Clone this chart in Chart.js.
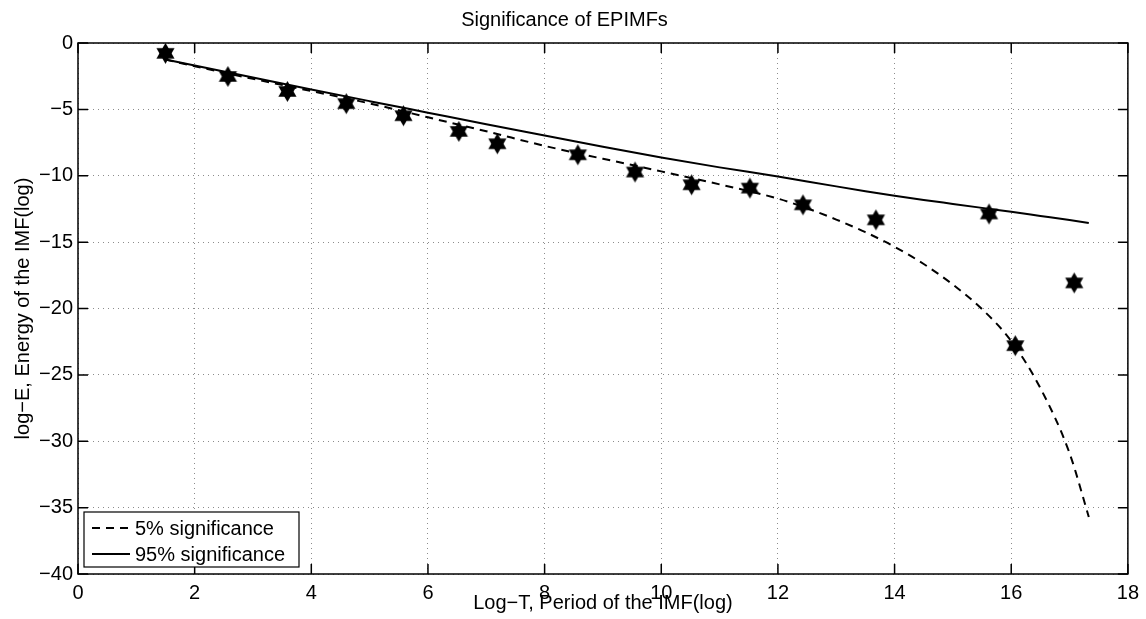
<!DOCTYPE html>
<html>
<head>
<meta charset="utf-8">
<script src="https://cdn.jsdelivr.net/npm/chart.js@4.4.1/dist/chart.umd.min.js"></script>
<style>
  html, body { margin: 0; padding: 0; background: #fff; }
  #wrap { width: 1146px; height: 619px; }
</style>
</head>
<body>
<div id="wrap"><canvas id="myChart"></canvas></div>
<script>
// data
const starX = [1.50, 2.57, 3.59, 4.60, 5.58, 6.53, 7.19, 8.57, 9.55, 10.52, 11.52, 12.43, 13.68, 15.62, 16.07, 17.08];
const starY = [-0.78, -2.52, -3.65, -4.57, -5.48, -6.66, -7.59, -8.42, -9.72, -10.68, -10.93, -12.19, -13.32, -12.88, -22.8, -18.07];

const curveX = [1.5, 2, 3, 4, 5, 6, 7, 8, 9, 10, 11, 12, 12.5, 13, 13.5, 14, 14.5, 15, 15.5, 16, 16.5, 17, 17.33];
const sig5 = [-1.25, -1.75, -2.7, -3.62, -4.55, -5.6, -6.65, -7.75, -8.72, -9.67, -10.65, -11.72, -12.45, -13.3, -14.25, -15.35, -16.65, -18.2, -20.05, -22.45, -26.0, -30.9, -35.7];
const sig95 = [-1.25, -1.7, -2.6, -3.5, -4.38, -5.25, -6.12, -6.97, -7.82, -8.62, -9.37, -10.05, -10.43, -10.8, -11.16, -11.5, -11.82, -12.12, -12.42, -12.72, -13.03, -13.34, -13.56];

const xTicks = [0, 2, 4, 6, 8, 10, 12, 14, 16, 18];
const yTicks = [-40, -35, -30, -25, -20, -15, -10, -5, 0];

const FONT = "'Liberation Sans', Arial, Helvetica, sans-serif";

// six-pointed star marker
function makeHexagram(r) {
    const c = document.createElement('canvas');
    const s = Math.ceil(r * 2 + 2);
    c.width = s; c.height = s;
    const g = c.getContext('2d');
    g.fillStyle = '#000';
    const cx = s / 2, cy = s / 2;
    [-90, 90].forEach(function(start) {
        g.beginPath();
        for (let k = 0; k < 3; k++) {
            const a = (start + k * 120) * Math.PI / 180;
            const px = cx + r * Math.cos(a), py = cy + r * Math.sin(a);
            if (k === 0) g.moveTo(px, py); else g.lineTo(px, py);
        }
        g.closePath();
        g.fill();
    });
    return c;
}

const toPts = (xs, ys) => xs.map((x, i) => ({ x: x, y: ys[i] }));

// frame, inward ticks and legend like the original figure
const framePlugin = {
    id: 'frame',
    afterDraw(chart) {
        const ctx = chart.ctx;
        const a = chart.chartArea;
        const sx = chart.scales.x, sy = chart.scales.y;
        const tl = 10;
        ctx.save();
        ctx.strokeStyle = '#000';
        ctx.lineWidth = 1.5;
        ctx.beginPath();
        xTicks.forEach(function(v) {
            const p = sx.getPixelForValue(v);
            ctx.moveTo(p, a.bottom); ctx.lineTo(p, a.bottom - tl);
            ctx.moveTo(p, a.top); ctx.lineTo(p, a.top + tl);
        });
        yTicks.forEach(function(v) {
            const p = sy.getPixelForValue(v);
            ctx.moveTo(a.left, p); ctx.lineTo(a.left + tl, p);
            ctx.moveTo(a.right, p); ctx.lineTo(a.right - tl, p);
        });
        ctx.stroke();
        ctx.strokeRect(a.left, a.top, a.right - a.left, a.bottom - a.top);

        // legend box
        const lines = chart.data.datasets.filter(d => d.showLine);
        const bx = a.left + 6, by = a.bottom - 62, bw = 215, bh = 55;
        ctx.fillStyle = '#fff';
        ctx.fillRect(bx, by, bw, bh);
        ctx.lineWidth = 1.2;
        ctx.strokeRect(bx, by, bw, bh);
        ctx.font = '20px ' + FONT;
        ctx.textBaseline = 'middle';
        lines.forEach(function(d, i) {
            const yy = by + 16 + i * 26;
            ctx.beginPath();
            ctx.lineWidth = 2;
            ctx.setLineDash(d.borderDash || []);
            ctx.moveTo(bx + 8, yy); ctx.lineTo(bx + 46, yy);
            ctx.stroke();
            ctx.setLineDash([]);
            ctx.fillStyle = '#000';
            ctx.fillText(d.label, bx + 51, yy + 1);
        });
        ctx.restore();
    }
};

document.addEventListener('DOMContentLoaded', function() {
    const ctx = document.getElementById('myChart').getContext('2d');
    Chart.defaults.font.family = FONT;
    Chart.defaults.color = '#000';

    new Chart(ctx, {
        type: 'scatter',
        data: {
            datasets: [{
                label: 'EPIMFs',
                data: toPts(starX, starY),
                pointStyle: makeHexagram(10.5),
                pointRadius: 10,
                showLine: false,
                order: 0
            }, {
                label: '5% significance',
                data: toPts(curveX, sig5),
                showLine: true,
                borderColor: '#000',
                borderWidth: 2,
                borderDash: [8, 6],
                pointRadius: 0,
                cubicInterpolationMode: 'monotone',
                order: 1
            }, {
                label: '95% significance',
                data: toPts(curveX, sig95),
                showLine: true,
                borderColor: '#000',
                borderWidth: 2,
                pointRadius: 0,
                cubicInterpolationMode: 'monotone',
                order: 1
            }]
        },
        options: {
            responsive: true,
            maintainAspectRatio: false,
            animation: false,
            layout: { padding: { right: 17, left: 0, top: 0, bottom: 0 } },
            plugins: {
                legend: { display: false },
                tooltip: { enabled: false },
                title: {
                    display: true,
                    text: 'Significance of EPIMFs',
                    color: '#000',
                    font: { size: 20, weight: 'normal', family: FONT },
                    padding: { top: 8, bottom: 11 }
                }
            },
            scales: {
                x: {
                    type: 'linear',
                    min: 0,
                    max: 18,
                    afterBuildTicks: s => { s.ticks = xTicks.map(v => ({ value: v })); },
                    afterFit: s => { s.height = 45; },
                    grid: { color: 'rgba(0,0,0,0.45)', drawTicks: false, tickLength: 0 },
                    border: { display: false, dash: [1, 4] },
                    ticks: { font: { size: 20 }, padding: 7, maxRotation: 0 },
                    title: {
                        display: true,
                        text: 'Log\u2212T, Period of the IMF(log)',
                        font: { size: 20 },
                        padding: { top: 0, bottom: 4 }
                    }
                },
                y: {
                    type: 'linear',
                    min: -40,
                    max: 0,
                    afterBuildTicks: s => { s.ticks = yTicks.map(v => ({ value: v })); },
                    afterFit: s => { s.width = 78; },
                    grid: { color: 'rgba(0,0,0,0.45)', drawTicks: false, tickLength: 0 },
                    border: { display: false, dash: [1, 4] },
                    ticks: {
                        font: { size: 20 },
                        padding: 5,
                        callback: v => String(v).replace('-', '\u2212')
                    },
                    title: {
                        display: true,
                        text: 'log\u2212E, Energy of the IMF(log)',
                        font: { size: 20 },
                        padding: { top: 11, bottom: 0 }
                    }
                }
            }
        },
        plugins: [framePlugin]
    });
});
</script>
</body>
</html>
